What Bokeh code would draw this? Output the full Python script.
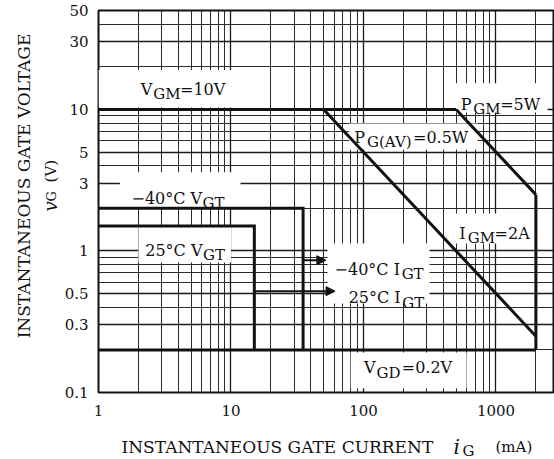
import math
from bokeh.plotting import figure
from bokeh.layouts import column, row
from bokeh.models import FixedTicker, Label, BoxAnnotation, Arrow, NormalHead, Range1d
from bokeh.embed import file_html
from bokeh.resources import INLINE

# ---------------- data ----------------
x_ticks = [1, 10, 100, 1000]
x_tick_labels = ["1", "10", "100", "1000"]
x_minor = [2, 3, 4, 5, 6, 7, 8, 9,
           20, 30, 40, 50, 60, 70, 80, 90,
           200, 300, 400, 500, 600, 700, 800, 900, 2000]
y_ticks = [0.1, 0.3, 0.5, 1, 3, 5, 10, 30, 50]
y_tick_labels = ["0.1", "0.3", "0.5", "1", "3", "5", "10", "30", "50"]
y_minor = [0.2, 0.4, 0.6, 0.7, 0.8, 0.9, 2, 4, 6, 7, 8, 9, 20, 40]

v_gm = 10.0        # V   peak gate voltage
p_gm = 5.0         # W   peak gate power
p_gav = 0.5        # W   average gate power
i_gm = 2000.0      # mA  peak gate current
v_gd = 0.2         # V   non-trigger gate voltage
i_min = 1.0        # mA  left edge of chart
vgt_m40, igt_m40 = 2.0, 35.0   # -40 C trigger voltage / current
vgt_25, igt_25 = 1.5, 15.0     # 25 C trigger voltage / current
arrow_m40 = (igt_m40, 52.0, 0.86)
arrow_25 = (igt_25, 61.0, 0.52)

# ---------------- boundary curves (derived from ratings) ----------------
def v_at(power_w, i_ma):
    return power_w / (i_ma / 1000.0)

def i_at(power_w, v):
    return power_w / v * 1000.0

vgm_x, vgm_y = [i_min, i_at(p_gm, v_gm)], [v_gm, v_gm]
pgav_x, pgav_y = [i_at(p_gav, v_gm), i_gm], [v_gm, v_at(p_gav, i_gm)]
pgm_x, pgm_y = [i_at(p_gm, v_gm), i_gm], [v_gm, v_at(p_gm, i_gm)]
igm_x, igm_y = [i_gm, i_gm], [v_at(p_gm, i_gm), v_gd]
vgd_x, vgd_y = [i_min, i_gm], [v_gd, v_gd]
m40_x, m40_y = [i_min, igt_m40, igt_m40], [vgt_m40, vgt_m40, v_gd]
t25_x, t25_y = [i_min, igt_25, igt_25], [vgt_25, vgt_25, v_gd]

FONT = "DejaVu Serif"
INK = "#111111"

# approximate DejaVu Serif advance widths (em) used to chain label pieces
ADV = {" ": 0.318, "=": 0.838, "\u2212": 0.838, "\u00b0": 0.5, "C": 0.734, "V": 0.722,
       "I": 0.467, "P": 0.733, "G": 0.775, "M": 0.946, "T": 0.683, "A": 0.722,
       "D": 0.834, "W": 1.042, "(": 0.390, ")": 0.390, ".": 0.318}


def text_w(t, size):
    return sum(ADV.get(ch, 0.636) for ch in t) * size


p = figure(width=494, height=420, x_axis_type="log", y_axis_type="log",
           x_range=Range1d(1, 2764), y_range=Range1d(0.1, 50),
           output_backend="svg", toolbar_location=None,
           min_border_left=38, min_border_right=0, min_border_top=10,
           min_border_bottom=28)
p.background_fill_color = "white"
p.border_fill_color = "white"
p.outline_line_color = INK
p.outline_line_width = 2

p.xaxis.ticker = FixedTicker(ticks=x_ticks, minor_ticks=x_minor)
p.yaxis.ticker = FixedTicker(ticks=y_ticks, minor_ticks=y_minor)
p.xaxis.major_label_overrides = dict(zip(x_ticks, x_tick_labels))
p.yaxis.major_label_overrides = dict(zip(y_ticks, y_tick_labels))
for ax in (p.xaxis, p.yaxis):
    ax.axis_line_color = None
    ax.major_tick_line_color = None
    ax.minor_tick_line_color = None
    ax.major_label_text_font = FONT
    ax.major_label_text_font_size = "15px"
    ax.major_label_text_color = INK
p.xaxis.major_label_standoff = 6
p.yaxis.major_label_standoff = 4

for g in (p.xgrid, p.ygrid):
    g.level = "image"
    g.grid_line_color = "#1a1a1a"
    g.grid_line_width = 1.3
    g.minor_grid_line_color = "#2a2a2a"
    g.minor_grid_line_width = 1

# white boxes behind the labels
boxes = [
    (1.0, 19.0, 10.3, 19.0),
    (1.45, 11.8, 2.0, 3.6),
    (2.0, 10.0, 0.83, 1.5),
    (78.0, 725.0, 5.2, 7.95),
    (486.0, 2450.0, 9.5, 15.3),
    (423.0, 2000.0, 1.13, 1.84),
    (53.5, 315.0, 0.425, 1.13),
    (80.0, 600.0, 0.107, 0.192),
]
for l, r, b, t in boxes:
    p.add_layout(BoxAnnotation(left=l, right=r, bottom=b, top=t, fill_color="white",
                               fill_alpha=1.0, line_color=None, level="underlay"))

for xs, ys in [(vgm_x, vgm_y), (pgav_x, pgav_y), (pgm_x, pgm_y), (igm_x, igm_y),
               (vgd_x, vgd_y), (m40_x, m40_y), (t25_x, t25_y)]:
    p.line(xs, ys, line_color=INK, line_width=3, line_join="miter")

for xs, xe, yv in (arrow_m40, arrow_25):
    p.add_layout(Arrow(end=NormalHead(size=9, fill_color=INK, line_color=INK),
                       x_start=xs, y_start=yv, x_end=xe, y_end=yv,
                       line_color=INK, line_width=2))


def put(fig, x, y, txt, dx, dy, size, style="normal", angle=0.0, align="left"):
    fig.add_layout(Label(x=x, y=y, x_offset=dx, y_offset=-dy, text=txt, angle=angle,
                         text_font=FONT, text_font_size=f"{size}px",
                         text_font_style=style, text_color=INK,
                         text_align=align, text_baseline="alphabetic"))


MAIN, SUB, DROP = 16, 15, 5


def compose_center(xc, y, pieces):
    """pieces: (text, is_subscript); centred horizontally on (xc, y)."""
    widths = [text_w(t, SUB if s else MAIN) for t, s in pieces]
    total = sum(widths) + (len(pieces) - 1)
    dx = -total / 2.0
    for (t, s), w in zip(pieces, widths):
        put(p, xc, y, t, dx, DROP if s else 0, SUB if s else MAIN)
        dx += w + 1


compose_center(4.34, 13.85, [("V", 0), ("GM", 1), ("=10V", 0)])
compose_center(3.98, 2.35, [("\u221240\u00b0C V", 0), ("GT", 1)])
compose_center(4.50, 1.008, [("25\u00b0C V", 0), ("GT", 1)])
compose_center(230.0, 6.34, [("P", 0), ("G(AV)", 1), ("=0.5W", 0)])
compose_center(1082.0, 10.85, [("P", 0), ("GM", 1), ("=5W", 0)])
compose_center(974.0, 1.33, [("I", 0), ("GM", 1), ("=2A", 0)])
compose_center(131.0, 0.740, [("\u221240\u00b0C I", 0), ("GT", 1)])
compose_center(149.0, 0.469, [("25\u00b0C I", 0), ("GT", 1)])
compose_center(217.0, 0.150, [("V", 0), ("GD", 1), ("=0.2V", 0)])

# ---------------- axis-title strips (pixel coordinates, y downwards) ----------------
def strip(w, h):
    f = figure(width=w, height=h, x_range=Range1d(0, w), y_range=Range1d(h, 0),
               output_backend="svg", toolbar_location=None, min_border=0,
               x_axis_location=None, y_axis_location=None)
    f.outline_line_color = None
    f.xgrid.visible = False
    f.ygrid.visible = False
    f.background_fill_color = "white"
    f.border_fill_color = "white"
    return f


ytitle = strip(60, 420)
put(ytitle, 23, 193, "INSTANTANEOUS GATE VOLTAGE", 0, 0, 17, angle=math.pi / 2, align="center")
put(ytitle, 50, 221, "v", 0, 0, 18, style="italic", angle=math.pi / 2)
put(ytitle, 50, 210, "G", 1, 0, 13, angle=math.pi / 2)
put(ytitle, 50, 189, "(V)", 0, 0, 15, angle=math.pi / 2)

xtitle = strip(554, 39)
put(xtitle, 121, 26, "INSTANTANEOUS GATE CURRENT", 0, 0, 17)
put(xtitle, 453, 26, "i", 0, 0, 20, style="italic")
put(xtitle, 462, 30, "G", 0, 0, 15)
put(xtitle, 495, 26, "(mA)", 0, 0, 15)

layout = column(row(ytitle, p), xtitle)
open("out.html", "w").write(file_html(layout, INLINE))
